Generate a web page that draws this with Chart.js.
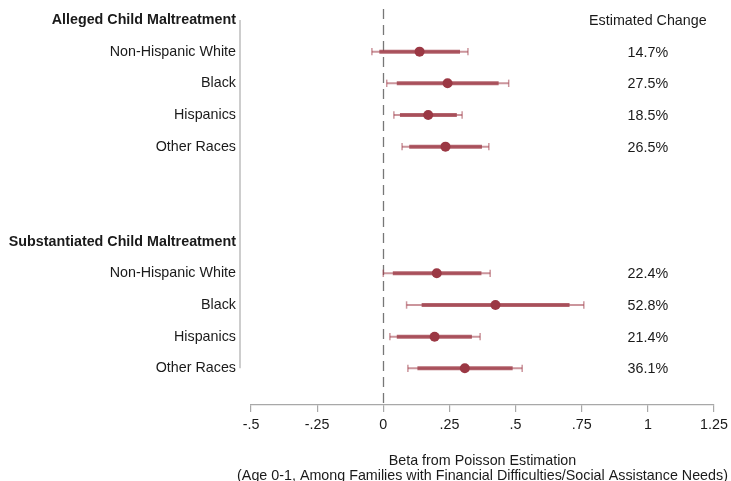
<!DOCTYPE html>
<html>
<head>
<meta charset="utf-8">
<script src="https://cdn.jsdelivr.net/npm/chart.js@4/dist/chart.umd.min.js"></script>
<style>
  html, body { margin: 0; padding: 0; background: #ffffff; }
  canvas { display: block; }
</style>
</head>
<body>
<canvas id="coefplot" width="731" height="481"></canvas>
<script>
// Row labels, top to bottom (blank rows separate the two outcome groups)
const rowLabels = [
  'Alleged Child Maltreatment',
  'Non-Hispanic White', 'Black', 'Hispanics', 'Other Races',
  '', '',
  'Substantiated Child Maltreatment',
  'Non-Hispanic White', 'Black', 'Hispanics', 'Other Races'
];
const headerRows = [0, 7];
const estimateRows = [1, 2, 3, 4, 8, 9, 10, 11];

// Estimated percent change, exp(beta) - 1
const pctChange = [14.7, 27.5, 18.5, 26.5, 22.4, 52.8, 21.4, 36.1];

// Wide confidence interval (thin line with caps)
const outerLow  = [-0.043, 0.013, 0.040, 0.071, 0.000, 0.088, 0.025, 0.093];
const outerHigh = [ 0.320, 0.474, 0.298, 0.399, 0.404, 0.758, 0.366, 0.525];

// Narrow confidence interval (thick bar)
const innerLow  = [-0.015, 0.051, 0.063, 0.098, 0.036, 0.145, 0.051, 0.129];
const innerHigh = [ 0.290, 0.436, 0.278, 0.373, 0.371, 0.704, 0.335, 0.489];

// X axis ticks
const xTicks = [-0.5, -0.25, 0, 0.25, 0.5, 0.75, 1, 1.25];
const xTickLabels = ['-.5', '-.25', '0', '.25', '.5', '.75', '1', '1.25'];

const changeHeader = 'Estimated Change';
const changeColumnX = 1;
const axisTitle = [
  'Beta from Poisson Estimation',
  '(Age 0-1, Among Families with Financial Difficulties/Social Assistance Needs)'
];

// Point estimates follow from the stated percent change
const beta = pctChange.map(p => Math.log(1 + p / 100));

const FONT = '"Liberation Sans", Arial, Helvetica, sans-serif';
const TEXT = '#1a1a1a';
const MAROON = 'rgb(155, 56, 68)';
const MAROON_BAR = 'rgba(160, 62, 74, 0.8)';
const MAROON_THIN = 'rgba(160, 62, 74, 0.55)';

function segments(lo, hi) {
  const d = [];
  lo.forEach((l, i) => {
    d.push({ x: l, y: estimateRows[i] }, { x: hi[i], y: estimateRows[i] }, { x: null, y: null });
  });
  return d;
}
function endpoints(lo, hi) {
  const d = [];
  lo.forEach((l, i) => {
    d.push({ x: l, y: estimateRows[i] }, { x: hi[i], y: estimateRows[i] });
  });
  return d;
}

// Zero reference line, left axis rule, percent-change column and axis title
const decorations = {
  id: 'decorations',
  beforeDatasetsDraw(chart) {
    const { ctx, chartArea, scales: { x, y } } = chart;
    ctx.save();
    ctx.strokeStyle = '#bdbdbd';
    ctx.lineWidth = 1.5;
    const ax = chartArea.left - 11;
    ctx.beginPath();
    ctx.moveTo(ax, y.getPixelForValue(0));
    ctx.lineTo(ax, y.getPixelForValue(rowLabels.length - 1));
    ctx.stroke();

    ctx.setLineDash([10, 6]);
    ctx.strokeStyle = '#777777';
    ctx.lineWidth = 1.3;
    const zx = Math.round(x.getPixelForValue(0)) + 0.5;
    ctx.beginPath();
    ctx.moveTo(zx, chartArea.top);
    ctx.lineTo(zx, chartArea.bottom);
    ctx.stroke();
    ctx.restore();
  },
  afterDatasetsDraw(chart) {
    const { ctx, chartArea, scales: { x, y } } = chart;
    ctx.save();
    ctx.font = '14.3px ' + FONT;
    ctx.fillStyle = TEXT;
    ctx.textAlign = 'center';
    ctx.textBaseline = 'middle';
    const cx = x.getPixelForValue(changeColumnX);
    ctx.fillText(changeHeader, cx, y.getPixelForValue(headerRows[0]) + 1);
    pctChange.forEach((p, i) => {
      ctx.fillText(p.toFixed(1) + '%', cx, y.getPixelForValue(estimateRows[i]) + 1);
    });

    const tx = (x.left + x.right) / 2;
    ctx.fillText(axisTitle[0], tx, chartArea.bottom + 56);
    ctx.fillText(axisTitle[1], tx, chartArea.bottom + 71);
    ctx.restore();
  }
};

new Chart(document.getElementById('coefplot'), {
  type: 'scatter',
  data: {
    datasets: [
      {
        label: 'Estimate',
        data: estimateRows.map((r, i) => ({ x: beta[i], y: r })),
        pointRadius: 5,
        pointHoverRadius: 5,
        backgroundColor: MAROON,
        borderColor: MAROON,
        borderWidth: 0,
        order: 0
      },
      {
        label: 'Narrow CI',
        data: segments(innerLow, innerHigh),
        showLine: true,
        spanGaps: false,
        borderColor: MAROON_BAR,
        borderWidth: 4,
        borderCapStyle: 'butt',
        pointRadius: 0,
        order: 1
      },
      {
        label: 'Wide CI',
        data: segments(outerLow, outerHigh),
        showLine: true,
        spanGaps: false,
        borderColor: MAROON_THIN,
        borderWidth: 2,
        borderCapStyle: 'butt',
        pointRadius: 0,
        order: 2
      },
      {
        label: 'Wide CI caps',
        data: endpoints(outerLow, outerHigh),
        pointStyle: 'line',
        rotation: 90,
        pointRadius: 3.7,
        pointHoverRadius: 3.7,
        borderColor: MAROON_THIN,
        borderWidth: 1.5,
        order: 3
      }
    ]
  },
  options: {
    responsive: false,
    animation: false,
    events: [],
    layout: { padding: { top: 9, right: 17, bottom: 0, left: 0 } },
    plugins: {
      legend: { display: false },
      tooltip: { enabled: false }
    },
    scales: {
      x: {
        type: 'linear',
        position: 'bottom',
        min: -0.5,
        max: 1.25,
        afterBuildTicks: s => { s.ticks = xTicks.map(v => ({ value: v })); },
        afterFit: s => { s.height = 76; s.paddingLeft = 0; s.paddingRight = 0; },
        ticks: {
          autoSkip: false,
          maxRotation: 0,
          padding: 4,
          color: TEXT,
          font: { family: FONT, size: 14.3 },
          callback: (v, i) => xTickLabels[i]
        },
        grid: {
          display: true,
          drawOnChartArea: false,
          drawTicks: true,
          tickLength: 7,
          color: '#a8a8a8',
          lineWidth: 1.2
        },
        border: { display: true, color: '#a8a8a8', width: 1.2 },
        title: { display: false }
      },
      y: {
        type: 'linear',
        reverse: true,
        min: -0.347,
        max: 12.158,
        afterBuildTicks: s => { s.ticks = rowLabels.map((_, i) => ({ value: i })); },
        afterFit: s => { s.width = 251; s.paddingTop = 0; s.paddingBottom = 0; },
        ticks: {
          autoSkip: false,
          padding: 15,
          color: TEXT,
          font: ctx => ({
            family: FONT,
            size: 14.3,
            weight: headerRows.includes(ctx.tick && ctx.tick.value) ? 'bold' : 'normal'
          }),
          callback: v => rowLabels[v]
        },
        grid: { display: false, drawTicks: false },
        border: { display: false }
      }
    }
  },
  plugins: [decorations]
});
</script>
</body>
</html>
